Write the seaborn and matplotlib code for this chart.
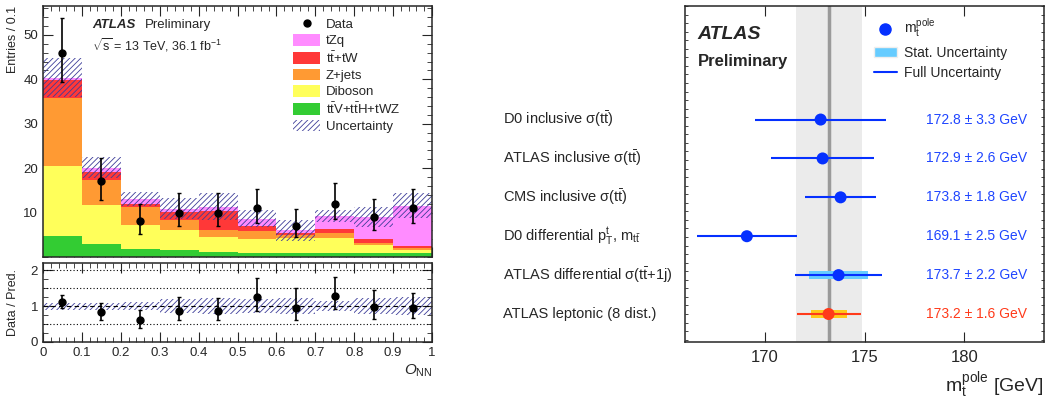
import matplotlib
matplotlib.use("Agg")
import numpy as np
import pandas as pd
import matplotlib.pyplot as plt
import seaborn as sns
from matplotlib.lines import Line2D
from matplotlib.patches import Patch
from matplotlib.ticker import MultipleLocator

# ---------------- data: left panel (O_NN distribution) ----------------
bin_edges = [0.0, 0.1, 0.2, 0.3, 0.4, 0.5, 0.6, 0.7, 0.8, 0.9, 1.0]
bin_centers = [0.05, 0.15, 0.25, 0.35, 0.45, 0.55, 0.65, 0.75, 0.85, 0.95]

processes = ["tZq", "ttbar+tW", "Z+jets", "Diboson", "ttV+ttH+tWZ"]
yield_tzq = [0.6, 1.0, 1.1, 0.8, 0.9, 1.6, 0.7, 3.0, 4.9, 9.0]
yield_tt = [4.0, 1.7, 0.6, 1.8, 4.4, 1.1, 0.4, 0.9, 0.9, 0.4]
yield_zjets = [15.3, 5.7, 4.2, 2.3, 1.6, 1.9, 0.6, 1.0, 0.4, 0.6]
yield_diboson = [15.8, 8.7, 5.2, 4.5, 3.3, 3.0, 3.3, 3.3, 1.8, 0.7]
yield_ttv = [4.7, 3.0, 1.9, 1.5, 1.1, 1.0, 1.0, 1.0, 1.0, 0.8]
pred_total = [40.4, 20.1, 13.0, 10.9, 11.3, 8.6, 6.0, 9.2, 9.0, 11.5]
pred_unc = [4.3, 2.4, 1.6, 2.3, 3.0, 1.9, 2.4, 1.3, 2.3, 2.8]

data_counts = [46, 17, 8, 10, 10, 11, 7, 12, 9, 11]
data_err_up = [7.8, 5.2, 3.9, 4.3, 4.3, 4.4, 3.7, 4.7, 4.1, 4.4]
data_err_dn = [6.7, 4.1, 2.8, 3.1, 3.1, 3.3, 2.6, 3.4, 3.0, 3.3]

ratio = [1.12, 0.83, 0.60, 0.87, 0.85, 1.25, 0.96, 1.29, 0.97, 0.96]
ratio_err_up = [0.20, 0.25, 0.30, 0.37, 0.37, 0.52, 0.53, 0.51, 0.47, 0.40]
ratio_err_dn = [0.16, 0.21, 0.21, 0.27, 0.25, 0.38, 0.36, 0.37, 0.33, 0.28]
ratio_band = [0.10, 0.10, 0.12, 0.20, 0.22, 0.20, 0.22, 0.13, 0.22, 0.24]

# ---------------- data: right panel (top mass summary) ----------------
meas_labels = [r"D0 inclusive σ(t$\mathregular{\bar{t}}$)",
               r"ATLAS inclusive σ(t$\mathregular{\bar{t}}$)",
               r"CMS inclusive σ(t$\mathregular{\bar{t}}$)",
               r"D0 differential p$_\mathregular{T}^\mathregular{t}$, m$_\mathregular{t\bar{t}}$",
               r"ATLAS differential σ(t$\mathregular{\bar{t}}$+1j)",
               "ATLAS leptonic (8 dist.)"]
meas_values = [172.8, 172.9, 173.8, 169.1, 173.7, 173.2]
meas_full = [3.3, 2.6, 1.8, 2.5, 2.2, 1.6]
meas_stat = [0.0, 0.0, 0.0, 0.0, 1.5, 0.9]
ref_value = 173.2
ref_band = 1.65

# ---------------- style ----------------
sns.set_style("ticks")
plt.rcParams["font.family"] = ["Liberation Sans", "DejaVu Sans"]
plt.rcParams["mathtext.fontset"] = "custom"
plt.rcParams["mathtext.rm"] = "Liberation Sans"
plt.rcParams["mathtext.it"] = "Liberation Sans:italic"
plt.rcParams["mathtext.bf"] = "Liberation Sans:bold"
plt.rcParams["hatch.linewidth"] = 0.6
plt.rcParams["axes.linewidth"] = 1.1

colors = {"tZq": "#ff8cff", "ttbar+tW": "#ff3838", "Z+jets": "#ff9a33",
          "Diboson": "#ffff5a", "ttV+ttH+tWZ": "#33cc33"}
hatch_col = "#3d3d99"
hatch_pat = "//////"

W, H = 1053, 400
fig = plt.figure(figsize=(W / 100, H / 100), dpi=100)
ax_top = fig.add_axes([43 / W, 1 - 257 / H, 389 / W, 251 / H])
ax_rat = fig.add_axes([43 / W, 1 - 342 / H, 389 / W, 79 / H])
ax_r = fig.add_axes([685 / W, 1 - 342 / H, 359 / W, 336 / H])

# stacked histogram
rows = []
for proc, ylds in zip(processes, [yield_tzq, yield_tt, yield_zjets, yield_diboson, yield_ttv]):
    for c, y in zip(bin_centers, ylds):
        rows.append({"x": c, "w": y, "process": proc})
df = pd.DataFrame(rows)
sns.histplot(data=df, x="x", weights="w", hue="process", hue_order=processes,
             multiple="stack", bins=bin_edges, palette=colors, alpha=1,
             linewidth=0, edgecolor="none", legend=False, ax=ax_top)

pt = np.array(pred_total)
pu = np.array(pred_unc)
ax_top.bar(bin_centers, 2 * pu, bottom=pt - pu, width=0.1, fill=False,
           hatch=hatch_pat, edgecolor=hatch_col, linewidth=0)
ax_top.errorbar(bin_centers, data_counts, yerr=[data_err_dn, data_err_up],
                fmt="o", color="black", ms=5, elinewidth=1.2, capsize=1.5)

ax_top.set_xlim(0, 1)
ax_top.set_ylim(0, 56.5)
ax_top.set_xlabel("")
ax_top.set_ylabel("")
ax_top.set_yticks([10, 20, 30, 40, 50])
ax_top.yaxis.set_minor_locator(MultipleLocator(2))
ax_top.xaxis.set_major_locator(MultipleLocator(0.1))
ax_top.xaxis.set_minor_locator(MultipleLocator(0.02))
ax_top.tick_params(which="both", direction="in", top=True, right=True, labelbottom=False, labelsize=9.5)
ax_top.tick_params(which="major", length=7)
ax_top.tick_params(which="minor", length=3.5)
ax_top.text(-0.078, 1.0, "Entries / 0.1", rotation=90, ha="center", va="top",
            transform=ax_top.transAxes, fontsize=9)
ax_top.text(0.127, 0.925, "ATLAS", fontsize=9.5, fontweight="bold", fontstyle="italic",
            transform=ax_top.transAxes, va="center")
ax_top.text(0.262, 0.925, "Preliminary", fontsize=9.5, transform=ax_top.transAxes, va="center")
ax_top.text(0.127, 0.845, r"$\mathregular{\sqrt{s}}$ = 13 TeV, 36.1 fb$^{\mathregular{-1}}$",
            fontsize=9, transform=ax_top.transAxes, va="center")

leg_handles = [Line2D([], [], marker="o", color="black", ls="none", ms=5)]
leg_handles += [Patch(facecolor=colors[p], edgecolor="none") for p in processes]
leg_handles += [Patch(facecolor="white", edgecolor=hatch_col, hatch=hatch_pat, linewidth=0)]
leg_labels = ["Data", "tZq", r"t$\mathregular{\bar{t}}$+tW", "Z+jets", "Diboson",
              r"t$\mathregular{\bar{t}}$V+t$\mathregular{\bar{t}}$H+tWZ", "Uncertainty"]
ax_top.legend(leg_handles, leg_labels, loc="upper left", bbox_to_anchor=(0.63, 0.975),
              frameon=False, fontsize=9.5, handlelength=2.0, handleheight=1.0,
              labelspacing=0.22, handletextpad=0.45, borderaxespad=0)

# ratio panel
rb = np.array(ratio_band)
ax_rat.bar(bin_centers, 2 * rb, bottom=1 - rb, width=0.1, fill=False,
           hatch=hatch_pat, edgecolor=hatch_col, linewidth=0)
for yv in [0.5, 1.5, 2.0]:
    ax_rat.axhline(yv, color="black", ls=(0, (1, 2)), lw=0.8)
ax_rat.axhline(1.0, color="black", ls=(0, (4, 3)), lw=0.8)
ax_rat.errorbar(bin_centers, ratio, yerr=[ratio_err_dn, ratio_err_up],
                fmt="o", color="black", ms=5, elinewidth=1.2, capsize=1.5)
ax_rat.set_xlim(0, 1)
ax_rat.set_ylim(0, 2.2)
ax_rat.set_yticks([0, 1, 2])
ax_rat.yaxis.set_minor_locator(MultipleLocator(0.25))
ax_rat.xaxis.set_minor_locator(MultipleLocator(0.02))
ax_rat.set_xticks(bin_edges)
ax_rat.set_xticklabels(["0", "0.1", "0.2", "0.3", "0.4", "0.5", "0.6", "0.7", "0.8", "0.9", "1"])
ax_rat.tick_params(which="both", direction="in", top=True, right=True, labelsize=9.5)
ax_rat.tick_params(which="major", length=7)
ax_rat.tick_params(which="minor", length=3.5)
ax_rat.text(-0.078, 0.5, "Data / Pred.", rotation=90, ha="center", va="center",
            transform=ax_rat.transAxes, fontsize=9)
ax_rat.text(1.0, -0.36, r"$O_{\mathregular{NN}}$", ha="right", va="center",
            transform=ax_rat.transAxes, fontsize=11)

# right panel: top mass summary
blue = "#0530ff"
ypos = [5, 4, 3, 2, 1, 0]
ax_r.axvspan(ref_value - ref_band, ref_value + ref_band, color="#ebebeb", lw=0)
ax_r.axvline(ref_value, color="#9a9a9a", lw=2.5)

for i, (lab, v, fu, st, y) in enumerate(zip(meas_labels, meas_values, meas_full, meas_stat, ypos)):
    last = i == len(meas_values) - 1
    lc = "#ff3a1a" if last else blue
    sc = "#ffc81a" if last else "#66ccff"
    tc = "#ff3a1a" if last else "#1f45ff"
    ax_r.hlines(y, v - fu, v + fu, color=lc, lw=1.5, zorder=4)
    if st > 0:
        ax_r.barh(y, 2 * st, left=v - st, height=0.2, color=sc, lw=0, zorder=3)
    ax_r.text(-0.508, y, lab, transform=ax_r.get_yaxis_transform(), ha="left",
              va="center", fontsize=10.5)
    ax_r.text(178.1, y, f"{v:.1f} ± {fu:.1f} GeV", color=tc, ha="left", va="center", fontsize=10)

pts = pd.DataFrame({"m": meas_values, "y": ypos,
                    "kind": ["other"] * 5 + ["this"]})
sns.scatterplot(data=pts, x="m", y="y", hue="kind", palette={"other": blue, "this": "#ff3a1a"},
                s=75, edgecolor="none", legend=False, zorder=5, ax=ax_r)

ax_r.set_xlim(166, 184)
ax_r.set_ylim(-0.72, 7.92)
ax_r.set_xticks([170, 175, 180])
ax_r.set_yticks([])
ax_r.yaxis.set_minor_locator(MultipleLocator(0.22))
ax_r.set_ylabel("")
ax_r.set_xlabel(r"m$_\mathregular{t}^\mathregular{pole}$ [GeV]", fontsize=14, loc="right")
ax_r.tick_params(axis="x", which="major", direction="in", top=True, length=7, labelsize=12, pad=6)
ax_r.tick_params(axis="y", which="minor", direction="in", left=True, right=True, length=2.5)

ax_r.text(0.035, 0.915, "ATLAS", fontsize=14, fontweight="bold", fontstyle="italic",
          transform=ax_r.transAxes, va="center")
ax_r.text(0.035, 0.835, "Preliminary", fontsize=12, fontweight="bold",
          transform=ax_r.transAxes, va="center")

r_handles = [Line2D([], [], marker="o", color=blue, ls="none", ms=8),
             Patch(facecolor="#66ccff", edgecolor="#eeeeee"),
             Line2D([], [], color=blue, lw=1.5)]
r_labels = [r"m$_\mathregular{t}^\mathregular{pole}$", "Stat. Uncertainty", "Full Uncertainty"]
ax_r.legend(r_handles, r_labels, loc="upper left", bbox_to_anchor=(0.51, 0.985),
            frameon=False, fontsize=10, handlelength=1.7, labelspacing=0.45,
            handletextpad=0.45, borderaxespad=0)

fig.savefig("out.png", dpi=100)
